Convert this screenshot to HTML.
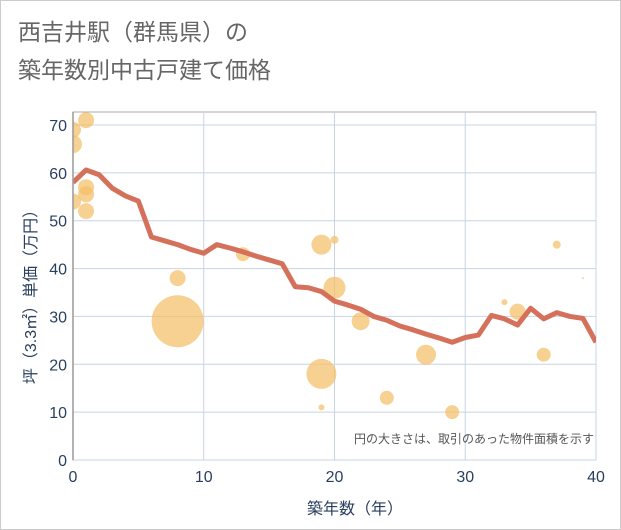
<!DOCTYPE html>
<html><head><meta charset="utf-8"><style>
html,body{margin:0;padding:0;background:#fff;}
svg{display:block;font-family:"Liberation Sans","Noto Sans CJK JP",sans-serif;}
</style></head><body>
<svg id="c" width="621" height="530">
<defs><clipPath id="plotclip"><rect x="73" y="112" width="523" height="348"/></clipPath></defs>
<rect x="0.5" y="0.5" width="620" height="529" fill="#fff" stroke="#ccc"/>
<text x="18" y="40" font-size="23" fill="#666">西吉井駅（群馬県）の</text>
<text x="18" y="78" font-size="23" fill="#666">築年数別中古戸建て価格</text>
<g id="grid"></g>
<g id="bubbles" clip-path="url(#plotclip)"></g>
<g id="line" clip-path="url(#plotclip)"></g>
<g id="axes"></g>
<text x="594" y="443" font-size="12" fill="#555" text-anchor="end">円の大きさは、取引のあった物件面積を示す</text>
<text x="355" y="514" font-size="16" fill="#2a3f5f" text-anchor="middle">築年数（年）</text>
<text transform="translate(36,293) rotate(-90)" font-size="16" fill="#2a3f5f" text-anchor="middle">坪（3.3㎡）単価（万円）</text>
</svg>
<script>
const xTicks=[0,10,20,30,40];
const yTicks=[0,10,20,30,40,50,60,70];
const lineX=[0,1,2,3,4,5,6,7,8,9,10,11,12,13,14,15,16,17,18,19,20,21,22,23,24,25,26,27,28,29,30,31,32,33,34,35,36,37,38,39,40];
const lineY=[58,60.6,59.6,56.8,55.2,54.1,46.6,45.8,45,44,43.2,45,44.3,43.5,42.6,41.8,41,36.2,36,35.2,33.2,32.4,31.5,30,29.2,28,27.2,26.3,25.5,24.6,25.6,26.1,30.2,29.5,28.2,31.7,29.5,30.8,30,29.6,24.6];
const bubX=[0,0,1,1,1,1,0,8,8,13,19,20,19,19,20,22,24,27,29,33,34,36,37,39];
const bubY=[69,66,71,57,55.5,52,54,38,29,43,45,46,18,11,36,29,13,22,10,33,31,22,45,38];
const bubR=[8,9,8,8,8,8,8,8,26,7,10,4,15,3,11,9,7,10,7,3,8,7,4,1];
const NS='http://www.w3.org/2000/svg';
const L=73,R=596,T=112,B=460;
const xs=v=>L+(v-0)/40*(R-L);
const ys=v=>B-v/70*(B-125);
function mk(tag,attrs,parent){const e=document.createElementNS(NS,tag);for(const k in attrs)e.setAttribute(k,attrs[k]);parent.appendChild(e);return e;}
const grid=document.getElementById('grid'),axes=document.getElementById('axes');
mk('rect',{x:L,y:T,width:R-L,height:B-T,fill:'#fff',stroke:'#aaa','stroke-width':1},grid);
xTicks.forEach(t=>{
  const g=mk('line',{x1:xs(t),x2:xs(t),y1:T,y2:B,stroke:'#c8d4e3','stroke-width':1},grid);
  
  
  const tx=mk('text',{x:xs(t),y:B+22,'font-size':16,fill:'#2a3f5f','text-anchor':'middle'},axes);
  tx.textContent=t;
  
  
});
yTicks.forEach(t=>{
  const g=mk('line',{x1:L,x2:R,y1:ys(t),y2:ys(t),stroke:'#c8d4e3','stroke-width':1},grid);
  
  
  const tx=mk('text',{x:L-6,y:ys(t)+6,'font-size':16,fill:'#2a3f5f','text-anchor':'end'},axes);
  tx.textContent=t;
  
  
});
mk('line',{x1:L,x2:L,y1:T,y2:B,stroke:'#999','stroke-width':1.5},axes);
const bub=document.getElementById('bubbles');
bubX.forEach((x,i)=>{
  const c=mk('circle',{cx:xs(x),cy:ys(bubY[i]),r:bubR[i],fill:'rgba(243,190,100,0.7)'},bub);
  
  
});
const pts=lineX.map((x,i)=>xs(x)+','+ys(lineY[i])).join(' ');
const pl=mk('polyline',{points:pts,fill:'none',stroke:'#d5705a','stroke-width':5,'stroke-linejoin':'round'},document.getElementById('line'));


</script>
</body></html>
